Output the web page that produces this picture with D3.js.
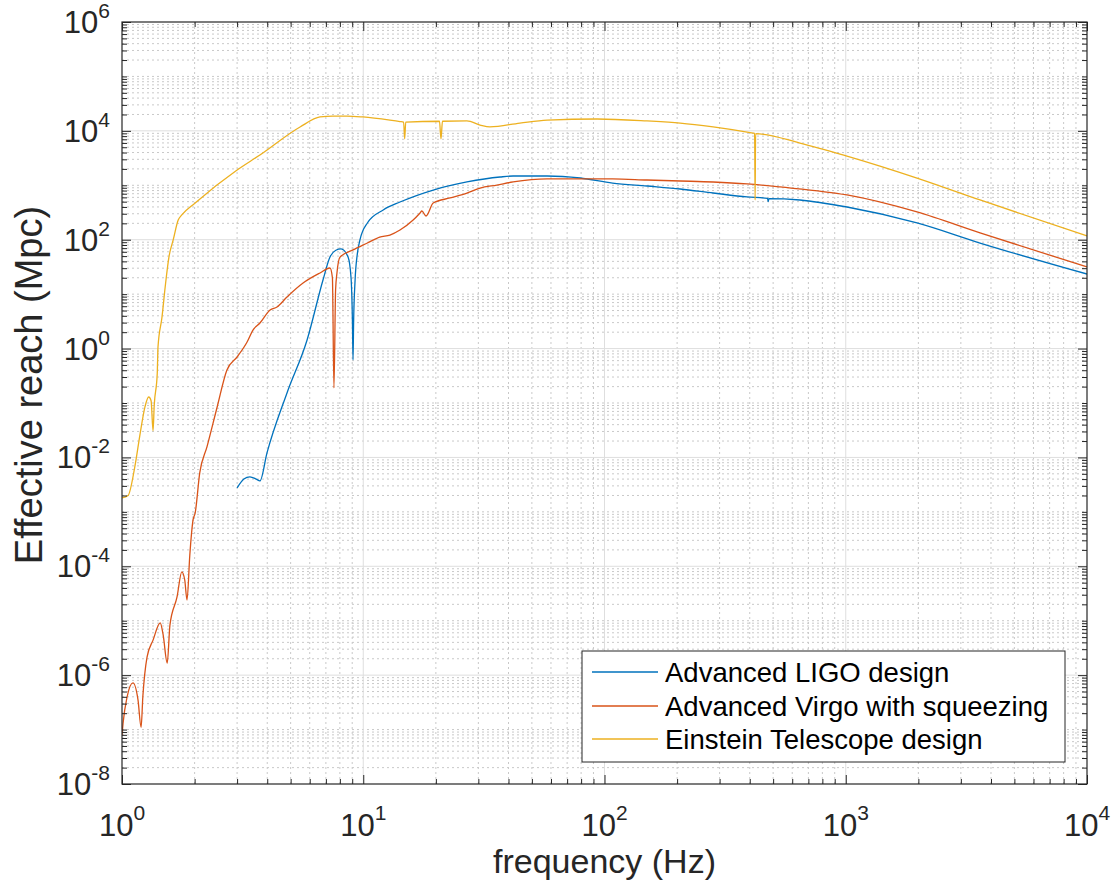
<!DOCTYPE html>
<html>
<head>
<meta charset="utf-8">
<script src="https://cdn.jsdelivr.net/npm/d3@7"></script>
<style>
  html, body { margin: 0; padding: 0; background: #fff; }
  svg { display: block; }
  text { font-family: "Liberation Sans", Arial, Helvetica, sans-serif; }
</style>
</head>
<body>
<svg id="chart" width="1117" height="888"></svg>
<script>
// ---------------- DATA ----------------
const seriesNames = ["Advanced LIGO design", "Advanced Virgo with squeezing", "Einstein Telescope design"];

const ligoFreq  = [3.0, 3.2, 3.39, 3.6, 3.73, 3.99, 4.83, 5.85, 6.81, 7.28, 7.7, 8.09, 8.65, 8.9, 9.02, 9.07, 9.12, 9.25, 9.45, 9.69, 10.4, 12.1, 14.2, 19.5, 26.9, 36.9, 41.8, 57.8, 79.2, 108, 150, 206, 282, 390, 474, 477, 480, 646, 1012, 1974, 3603, 10000];
const ligoReach = [2.75e-3, 4.0e-3, 4.4e-3, 4.0e-3, 3.7e-3, 0.0121, 0.153, 1.44, 18.2, 48, 64, 67.6, 48, 20, 3, 0.62, 3, 18, 55, 99, 203, 352, 493, 819, 1150, 1420, 1480, 1480, 1360, 1100, 970, 855, 721, 610, 575, 500, 570, 537, 399, 203, 87, 23.4];

const virgoFreq  = [1.0, 1.01, 1.05, 1.11, 1.165, 1.20, 1.22, 1.27, 1.345, 1.44, 1.48, 1.54, 1.58, 1.69, 1.77, 1.82, 1.86, 1.91, 1.97, 2.01, 2.10, 2.25, 2.48, 2.72, 3.0, 3.30, 3.49, 3.73, 4.11, 4.39, 4.83, 5.63, 6.62, 7.28, 7.45, 7.56, 7.68, 7.78, 8.01, 9.07, 10.4, 11.7, 12.9, 14.2, 16.1, 17.2, 17.5, 18.2, 19.5, 22.9, 26.9, 30.5, 35.8, 41.8, 57.8, 79.2, 108, 150, 206, 282, 390, 534, 1012, 1974, 3603, 10000];
const virgoReach = [7.9e-8, 1.3e-7, 4.0e-7, 7.2e-7, 3.5e-7, 1.1e-7, 4.0e-7, 2.15e-6, 4.4e-6, 9.1e-6, 5.6e-6, 1.67e-6, 8.3e-6, 2.7e-5, 7.9e-5, 5.6e-5, 2.4e-5, 1.6e-4, 7.1e-4, 9.5e-4, 5.2e-3, 0.0156, 0.0845, 0.40, 0.70, 1.32, 2.19, 2.95, 5.12, 5.81, 8.87, 16.0, 24.5, 30.2, 20, 0.19, 12, 24.5, 48, 65, 87, 112, 122, 151, 230, 310, 337, 273, 473, 585, 721, 891, 1010, 1150, 1310, 1310, 1310, 1250, 1200, 1150, 1060, 931, 664, 323, 133, 31.6];

const etFreq  = [1.0, 1.06, 1.13, 1.19, 1.245, 1.29, 1.32, 1.345, 1.36, 1.40, 1.41, 1.465, 1.51, 1.565, 1.63, 1.71, 1.77, 2.01, 3.0, 3.73, 5.47, 6.62, 7.49, 8.56, 9.98, 14.2, 14.7, 14.85, 15.0, 20.7, 21.0, 21.3, 26.9, 30.5, 33.5, 44.6, 57.8, 93.1, 150, 206, 282, 413, 419, 421, 423, 646, 1012, 1974, 3603, 10000];
const etReach = [1.8e-3, 2.0e-3, 6.7e-3, 0.028, 0.085, 0.129, 0.11, 0.031, 0.09, 0.35, 1.07, 3.8, 13.5, 48, 99, 230, 285, 473, 1910, 3600, 11800, 18000, 18700, 18700, 18000, 14800, 14500, 7100, 14500, 15000, 7100, 15000, 15200, 12800, 11800, 13900, 15800, 16500, 15200, 13900, 11800, 9100, 9000, 537, 8900, 5980, 3450, 1360, 537, 117];

const seriesColors = ["#0072BD", "#D95319", "#EDB120"];

const xMajorTicks = [1, 10, 100, 1000, 10000];
const xTickExps   = ["0", "1", "2", "3", "4"];
const yMajorTicks = [1e-8, 1e-6, 1e-4, 1e-2, 1, 1e2, 1e4, 1e6];
const yTickExps   = ["-8", "-6", "-4", "-2", "0", "2", "4", "6"];

const xLabel = "frequency (Hz)";
const yLabel = "Effective reach (Mpc)";

// ---------------- LAYOUT ----------------
const L = 122, T = 22, R = 1087, B = 784;
const axisColor = "#262626";

const svg = d3.select("#chart");
svg.append("rect").attr("width", 1117).attr("height", 888).attr("fill", "#fff");

const x = d3.scaleLog().domain([1, 1e4]).range([L, R]);
const y = d3.scaleLog().domain([1e-8, 1e6]).range([B, T]);

// minor positions
const xMinor = [];
for (let d = 0; d <= 3; d++) for (let k = 2; k <= 9; k++) xMinor.push(k * Math.pow(10, d));
const yMinor = [];
for (let d = -8; d <= 5; d++) for (let k = 1; k <= 9; k++) {
  if (k === 1 && d % 2 === 0) continue;
  yMinor.push(k * Math.pow(10, d));
}

// ---------------- GRID ----------------
const grid = svg.append("g");
grid.selectAll(".xminor").data(xMinor).join("line")
  .attr("x1", d => x(d)).attr("x2", d => x(d)).attr("y1", T).attr("y2", B)
  .attr("stroke", "#c9c9c9").attr("stroke-width", 1).attr("stroke-dasharray", "2,3");
grid.selectAll(".yminor").data(yMinor).join("line")
  .attr("y1", d => y(d)).attr("y2", d => y(d)).attr("x1", L).attr("x2", R)
  .attr("stroke", "#c9c9c9").attr("stroke-width", 1).attr("stroke-dasharray", "2,3");
grid.selectAll(".xmajor").data(xMajorTicks.slice(1, -1)).join("line")
  .attr("x1", d => x(d)).attr("x2", d => x(d)).attr("y1", T).attr("y2", B)
  .attr("stroke", "#dedede").attr("stroke-width", 1);
grid.selectAll(".ymajor").data(yMajorTicks.slice(1, -1)).join("line")
  .attr("y1", d => y(d)).attr("y2", d => y(d)).attr("x1", L).attr("x2", R)
  .attr("stroke", "#dedede").attr("stroke-width", 1);

// ---------------- LINES ----------------
svg.append("clipPath").attr("id", "clip").append("rect")
  .attr("x", L).attr("y", T).attr("width", R - L).attr("height", B - T);

const line = d3.line().x(d => x(d[0])).y(d => y(d[1])).curve(d3.curveMonotoneX);
const seriesData = [
  d3.zip(ligoFreq, ligoReach),
  d3.zip(virgoFreq, virgoReach),
  d3.zip(etFreq, etReach)
];
const plot = svg.append("g").attr("clip-path", "url(#clip)");
seriesData.forEach((s, i) => {
  plot.append("path").datum(s).attr("d", line)
    .attr("fill", "none").attr("stroke", seriesColors[i]).attr("stroke-width", 1.3)
    .attr("stroke-linejoin", "round");
});

// ---------------- AXES (box + inward ticks) ----------------
const ax = svg.append("g");
function styleAxis(g) {
  g.select(".domain").remove();
  g.selectAll(".tick line").attr("stroke", axisColor).attr("stroke-width", 1);
  g.selectAll(".tick text").remove();
}
ax.append("g").attr("transform", `translate(0,${B})`)
  .call(d3.axisBottom(x).tickValues(xMajorTicks).tickSize(-9).tickFormat("")).call(styleAxis);
ax.append("g").attr("transform", `translate(0,${B})`)
  .call(d3.axisBottom(x).tickValues(xMinor).tickSize(-5).tickFormat("")).call(styleAxis);
ax.append("g").attr("transform", `translate(0,${T})`)
  .call(d3.axisTop(x).tickValues(xMajorTicks).tickSize(-9).tickFormat("")).call(styleAxis);
ax.append("g").attr("transform", `translate(0,${T})`)
  .call(d3.axisTop(x).tickValues(xMinor).tickSize(-5).tickFormat("")).call(styleAxis);
ax.append("g").attr("transform", `translate(${L},0)`)
  .call(d3.axisLeft(y).tickValues(yMajorTicks).tickSize(-9).tickFormat("")).call(styleAxis);
ax.append("g").attr("transform", `translate(${L},0)`)
  .call(d3.axisLeft(y).tickValues(yMinor).tickSize(-5).tickFormat("")).call(styleAxis);
ax.append("g").attr("transform", `translate(${R},0)`)
  .call(d3.axisRight(y).tickValues(yMajorTicks).tickSize(-9).tickFormat("")).call(styleAxis);
ax.append("g").attr("transform", `translate(${R},0)`)
  .call(d3.axisRight(y).tickValues(yMinor).tickSize(-5).tickFormat("")).call(styleAxis);

ax.append("rect").attr("x", L).attr("y", T).attr("width", R - L).attr("height", B - T)
  .attr("fill", "none").attr("stroke", axisColor).attr("stroke-width", 1.2);

// tick labels
const xl = ax.append("g");
xMajorTicks.forEach((v, i) => {
  const t = xl.append("text").attr("x", x(v)).attr("y", 836)
    .attr("text-anchor", "middle").attr("font-size", 31).attr("fill", axisColor);
  t.append("tspan").text("10");
  t.append("tspan").attr("dy", -16).attr("font-size", 21).text(xTickExps[i]);
});
const yl = ax.append("g");
yMajorTicks.forEach((v, i) => {
  const t = yl.append("text").attr("x", 110).attr("y", y(v) + 11)
    .attr("text-anchor", "end").attr("font-size", 31).attr("fill", axisColor);
  t.append("tspan").text("10");
  t.append("tspan").attr("dy", -15).attr("font-size", 21).text(yTickExps[i]);
});

// axis labels
svg.append("text").attr("x", (L + R) / 2).attr("y", 873)
  .attr("text-anchor", "middle").attr("font-size", 34).attr("fill", axisColor).text(xLabel);
svg.append("text").attr("transform", `translate(42,385) rotate(-90)`)
  .attr("text-anchor", "middle").attr("font-size", 38).attr("fill", axisColor).text(yLabel);

// ---------------- LEGEND ----------------
const lg = svg.append("g");
lg.append("rect").attr("x", 582).attr("y", 651).attr("width", 483).attr("height", 111)
  .attr("fill", "#fff").attr("stroke", axisColor).attr("stroke-width", 1);
const rowY = [672, 706, 739];
seriesNames.forEach((name, i) => {
  lg.append("line").attr("x1", 592).attr("x2", 658).attr("y1", rowY[i]).attr("y2", rowY[i])
    .attr("stroke", seriesColors[i]).attr("stroke-width", 1.3);
  lg.append("text").attr("x", 665).attr("y", rowY[i] + 9.5)
    .attr("font-size", 27.5).attr("fill", "#000").text(name);
});
</script>
</body>
</html>
